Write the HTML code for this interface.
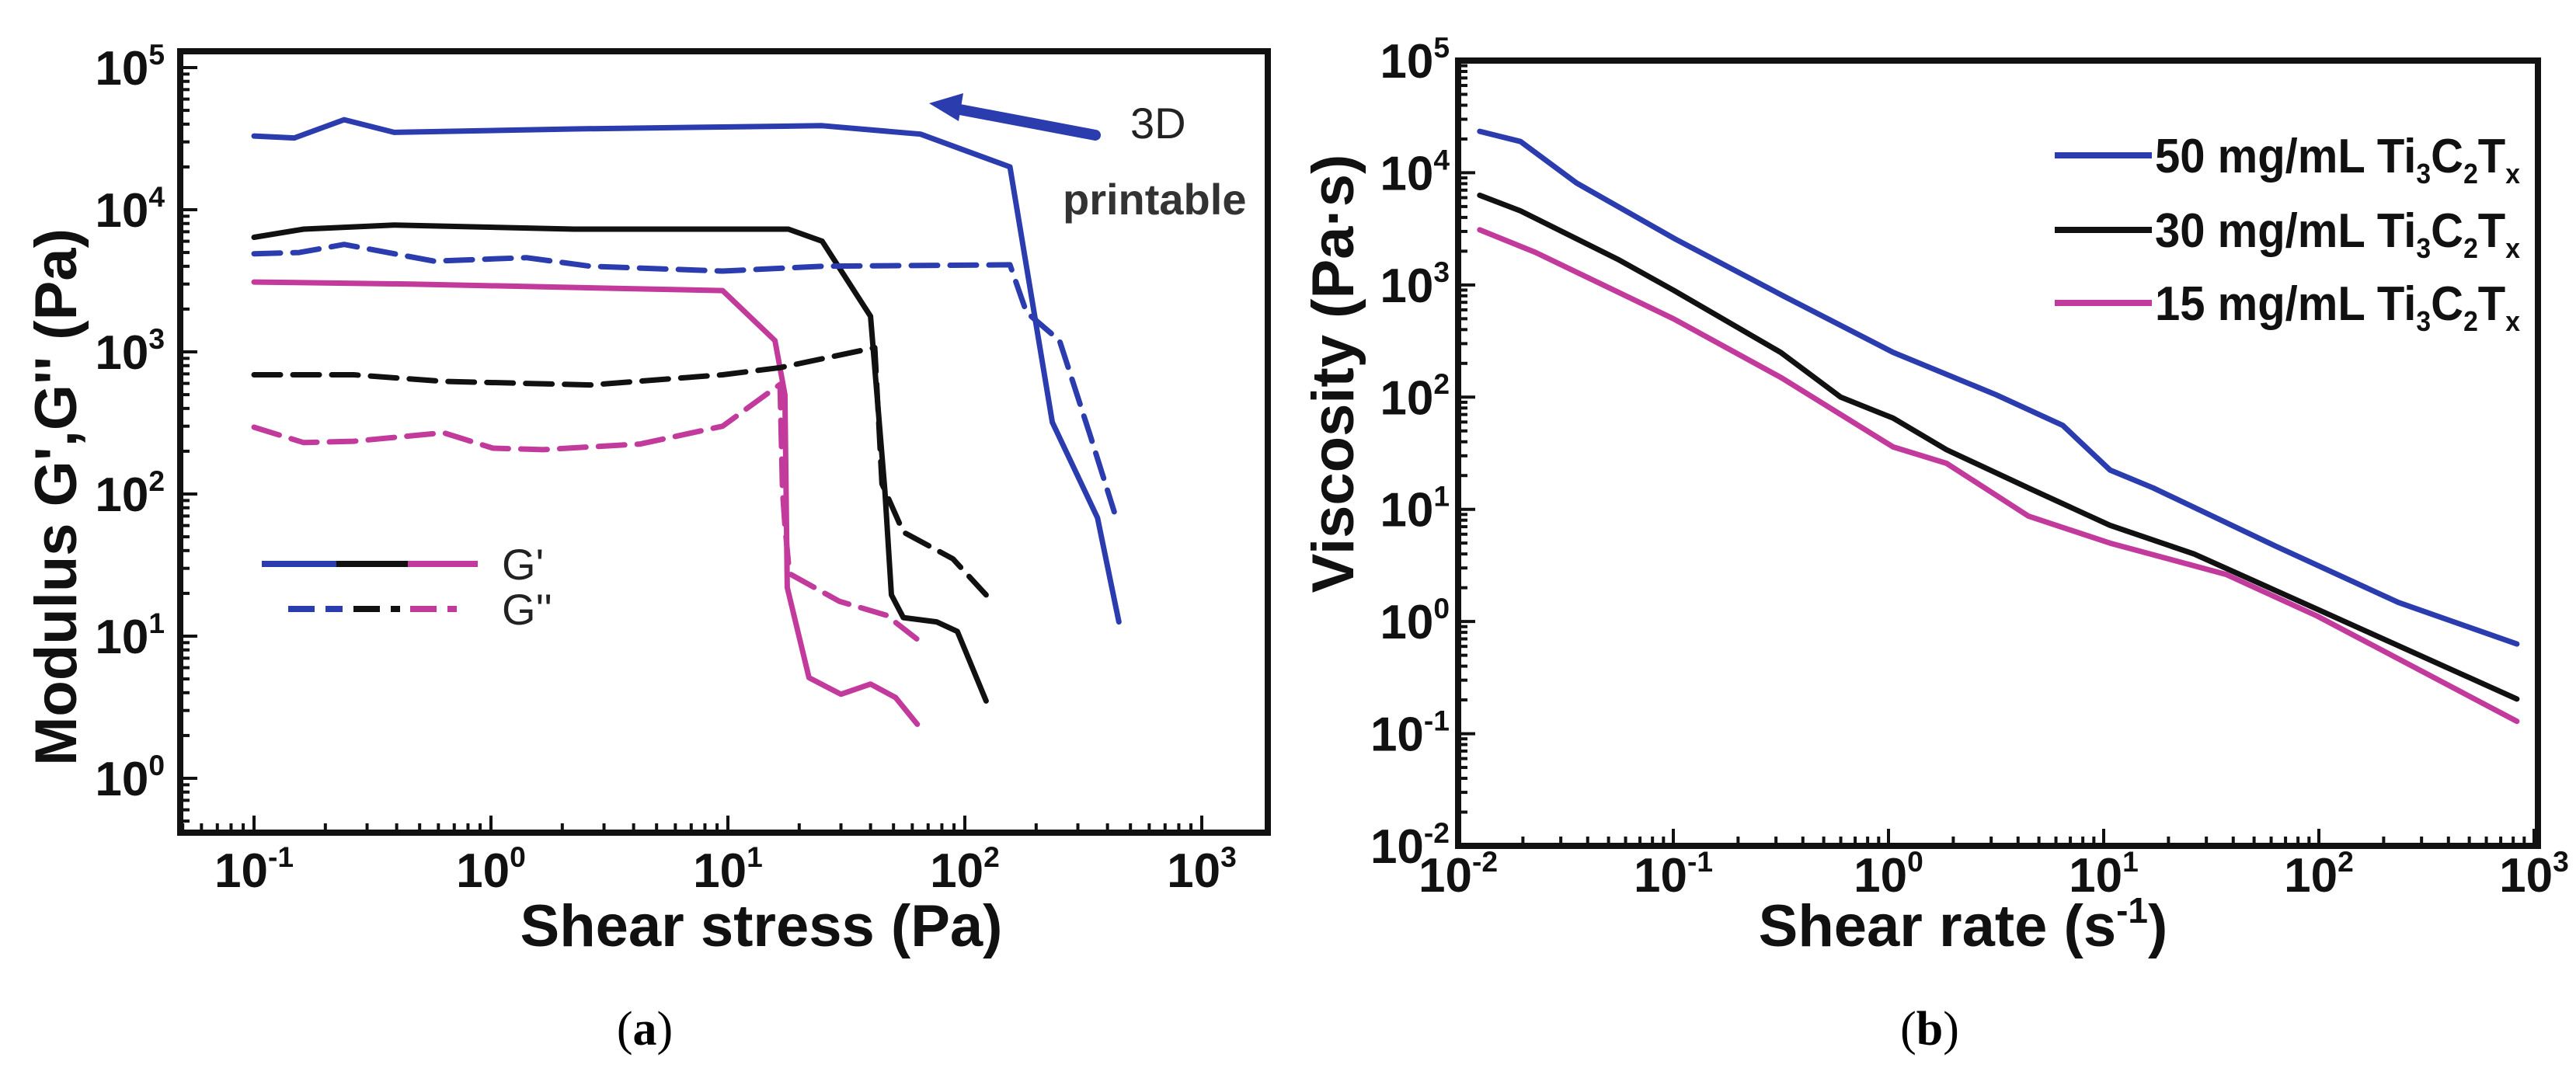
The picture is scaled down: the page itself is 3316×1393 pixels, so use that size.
<!DOCTYPE html>
<html><head><meta charset="utf-8">
<style>
html,body{margin:0;padding:0;background:#fff;}
svg{display:block;}
text{font-family:"Liberation Sans",Arial,sans-serif;}
</style></head>
<body>
<svg id="fig" width="3316" height="1393" viewBox="0 0 3316 1393" xmlns="http://www.w3.org/2000/svg">
  <rect width="3316" height="1393" fill="#fff"/>
  <g id="pa"></g>
  <g id="pb"></g>
  <text x="830" y="1345" text-anchor="middle" font-size="62" style="font-family:'Liberation Serif',serif">(<tspan font-weight="bold">a</tspan>)</text>
  <text x="2484" y="1345" text-anchor="middle" font-size="62" style="font-family:'Liberation Serif',serif">(<tspan font-weight="bold">b</tspan>)</text>
</svg>
<script>
// ===== Panel (a) data: shear stress (Pa) vs modulus (Pa) =====
const aBlueGpX = [0.1,0.148,0.24,0.39,2.24,25,65,155,234,363,447];
const aBlueGpY = [33000,32000,43000,35000,37000,39000,34000,20000,320,68,12.6];
const aBlackGpX = [0.1,0.162,0.39,2.24,18,25,40,46,49,55,76,93,123];
const aBlackGpY = [6400,7300,7800,7300,7300,6000,1780,105,19.5,13.5,12.6,10.8,3.5];
const aMagGpX = [0.1,0.46,9.5,15.8,17.4,17.6,17.8,22,30,40,51,63];
const aMagGpY = [3100,3000,2700,1200,500,105,22,5.1,3.9,4.6,3.7,2.4];
const aBlueGppX = [0.1,0.155,0.24,0.575,1.41,2.63,9.5,25,155,182,251,339,427];
const aBlueGppY = [4900,5000,5700,4350,4600,4000,3700,4000,4100,1900,1200,255,75];
const aBlackGppX = [0.1,0.263,0.63,2.63,9.5,16.6,41.7,44.7,55,89,123];
const aBlackGppY = [690,690,620,585,690,775,1070,118,54,35,19.5];
const aMagGppX = [0.1,0.162,0.263,0.63,1.02,1.66,4.27,9.5,16.6,17,17.4,18.2,29.5,46.8,63];
const aMagGppY = [295,230,235,270,210,205,225,300,590,105,60,27.5,17.6,14,9.5];
const aXTickExp = [-1,0,1,2,3];
const aYTickExp = [0,1,2,3,4,5];

// ===== Panel (b) data: shear rate (1/s) vs viscosity (Pa·s) =====
const bX50 = [0.0126,0.0195,0.0355,0.102,0.324,1.05,3.16,6.46,10.7,17,63,234,832];
const bY50 = [23400,19000,8100,2570,800,251,105,56,22.4,15.5,4.7,1.48,0.63];
const bX30 = [0.0126,0.0195,0.055,0.1,0.316,0.6,1.05,1.86,4.47,10.7,26.3,98,832];
const bY30 = [6300,4570,1700,900,250,100,65,34,15.5,7.2,4.0,1.29,0.204];
const bX15 = [0.0126,0.0229,0.1,0.316,1.05,1.86,4.47,10.7,37,98,832];
const bY15 = [3100,1950,500,150,36,25.7,8.7,5.0,2.63,1.12,0.129];
const bXTickExp = [-2,-1,0,1,2,3];
const bYTickExp = [-2,-1,0,1,2,3,4,5];

const NS = "http://www.w3.org/2000/svg";
const BLUE = "#2a3cae", MAG = "#c23a9c", BLK = "#111";
function mk(parent, tag, attrs){
  const e = document.createElementNS(NS, tag);
  for (const k in attrs) e.setAttribute(k, attrs[k]);
  parent.appendChild(e); return e;
}
function logAxis(d0,d1,p0,p1){ return v => p0 + (Math.log10(v)-d0)/(d1-d0)*(p1-p0); }
function powLabel(parent, x, y, exp, anchor, fs){
  const t = mk(parent,'text',{x:x,y:y,'text-anchor':anchor,'font-size':fs,'font-weight':'bold',fill:'#111'});
  
  
  t.appendChild(document.createTextNode('10'));
  const s = mk(t,'tspan',{dy:-fs*0.42,'font-size':fs*0.6});
  s.textContent = String(exp);
  return t;
}
function drawFrame(g, L,T,R,B, xs, ys, xE, yE){
  for (let e=xE[0]; e<=xE[xE.length-1]; e++){
    for (let m=1; m<10; m++){
      const v = m*Math.pow(10,e); const px = xs(v);
      if (px < L-1 || px > R+1) continue;
      const len = m===1?22:12;
      const t = mk(g,'line',{x1:px,y1:B,x2:px,y2:B-len,stroke:'#111','stroke-width':4});
      
      
    }
  }
  for (let e=yE[0]-1; e<=yE[yE.length-1]; e++){
    for (let m=1; m<10; m++){
      const v = m*Math.pow(10,e); const py = ys(v);
      if (py < T-1 || py > B+1) continue;
      const len = m===1?22:12;
      const t = mk(g,'line',{x1:L,y1:py,x2:L+len,y2:py,stroke:'#111','stroke-width':4});
      
      
    }
  }
  const f = mk(g,'rect',{x:L,y:T,width:R-L,height:B-T,fill:'none',stroke:'#111','stroke-width':8});
  
  
}
function series(g, X, Y, xs, ys, color, dash, name){
  const pts = X.map((x,i)=> xs(x).toFixed(1)+','+ys(Y[i]).toFixed(1)).join(' ');
  const a = {points:pts,fill:'none',stroke:color,'stroke-width':7,'stroke-linejoin':'round','stroke-linecap':'round'};
  if (dash) a['stroke-dasharray'] = dash;
  const p = mk(g,'polyline',a);
  
  
  return p;
}

// ---------- Panel A ----------
(function(){
  const g = document.getElementById('pa');
  const L=232,T=66,R=1632,B=1072;
  const xs = logAxis(-1,3,327,1547);
  const ys = logAxis(0,5,1002,87);
  drawFrame(g,L,T,R,B,xs,ys,[-2,3],aYTickExp);
  aXTickExp.forEach(e=>powLabel(g, xs(Math.pow(10,e)), 1142, e, 'middle', 62));
  aYTickExp.forEach(e=>powLabel(g, 212, ys(Math.pow(10,e))+22, e, 'end', 62));
  const xt = mk(g,'text',{x:980,y:1218,'text-anchor':'middle','font-size':76,'font-weight':'bold',fill:'#111'});
  xt.textContent = 'Shear stress (Pa)';
  
  
  const yt = mk(g,'text',{x:0,y:0,transform:'translate(98,640) rotate(-90)','text-anchor':'middle','font-size':76,'font-weight':'bold',fill:'#111'});
  yt.textContent = "Modulus G',G'' (Pa)";
  
  

  series(g,aBlueGpX,aBlueGpY,xs,ys,BLUE,null,'series-blue-g-prime');
  series(g,aBlackGpX,aBlackGpY,xs,ys,BLK,null,'series-black-g-prime');
  series(g,aMagGpX,aMagGpY,xs,ys,MAG,null,'series-magenta-g-prime');
  series(g,aBlueGppX,aBlueGppY,xs,ys,BLUE,'34 16','series-blue-g-double-prime');
  series(g,aBlackGppX,aBlackGppY,xs,ys,BLK,'34 16','series-black-g-double-prime');
  series(g,aMagGppX,aMagGppY,xs,ys,MAG,'34 16','series-magenta-g-double-prime');

  const ar = mk(g,'line',{x1:1410,y1:174,x2:1225,y2:139,stroke:BLUE,'stroke-width':14,'stroke-linecap':'round'});
  
  
  const ah = mk(g,'polygon',{points:'1196,133 1240,120 1234,156',fill:BLUE});
  
  
  const t1 = mk(g,'text',{x:1455,y:178,'font-size':56,fill:'#222'}); t1.textContent='3D';
  
  
  const t2 = mk(g,'text',{x:1368,y:276,'font-size':56,'font-weight':'bold',fill:'#333'}); t2.textContent='printable';
  
  

  const lg = mk(g,'g',{});
  
  
  mk(lg,'line',{x1:337,y1:726,x2:433,y2:726,stroke:BLUE,'stroke-width':8});
  mk(lg,'line',{x1:433,y1:726,x2:525,y2:726,stroke:BLK,'stroke-width':8});
  mk(lg,'line',{x1:525,y1:726,x2:615,y2:726,stroke:MAG,'stroke-width':8});
  mk(lg,'line',{x1:371,y1:784,x2:441,y2:784,stroke:BLUE,'stroke-width':8,'stroke-dasharray':'34 14'});
  mk(lg,'line',{x1:455,y1:784,x2:515,y2:784,stroke:BLK,'stroke-width':8,'stroke-dasharray':'34 14'});
  mk(lg,'line',{x1:528,y1:784,x2:588,y2:784,stroke:MAG,'stroke-width':8,'stroke-dasharray':'34 14'});
  const l1 = mk(lg,'text',{x:646,y:746,'font-size':56,fill:'#222'}); l1.textContent="G'";
  
  
  const l2 = mk(lg,'text',{x:646,y:804,'font-size':56,fill:'#222'}); l2.textContent="G''";
  
  
})();

// ---------- Panel B ----------
(function(){
  const g = document.getElementById('pb');
  const L=1877,T=78,R=3267,B=1089;
  const xs = logAxis(-2,3,1877,3262);
  const ys = logAxis(-2,5,1089,78);
  drawFrame(g,L,T,R,B,xs,ys,bXTickExp,bYTickExp);
  bXTickExp.forEach(e=>powLabel(g, xs(Math.pow(10,e)), 1148, e, 'middle', 62));
  bYTickExp.forEach(e=>powLabel(g, 1866, ys(Math.pow(10,e))+22, e, 'end', 62));
  const xt = mk(g,'text',{x:2527,y:1218,'text-anchor':'middle','font-size':76,'font-weight':'bold',fill:'#111'});
  xt.appendChild(document.createTextNode('Shear rate (s'));
  const sp = mk(xt,'tspan',{dy:-30,'font-size':46}); sp.textContent='-1';
  const sp2 = mk(xt,'tspan',{dy:30}); sp2.textContent=')';
  
  
  const yt = mk(g,'text',{x:0,y:0,transform:'translate(1742,481) rotate(-90)','text-anchor':'middle','font-size':76,'font-weight':'bold',fill:'#111'});
  yt.textContent = 'Viscosity (Pa\u00b7s)';
  
  

  series(g,bX50,bY50,xs,ys,BLUE,null,'series-50-mg-ml');
  series(g,bX30,bY30,xs,ys,BLK,null,'series-30-mg-ml');
  series(g,bX15,bY15,xs,ys,MAG,null,'series-15-mg-ml');

  const lg = mk(g,'g',{});
  
  
  const entries = [['50',BLUE,200],['30',BLK,296],['15',MAG,390]];
  entries.forEach(en=>{
    const ln = mk(lg,'line',{x1:2645,y1:en[2],x2:2770,y2:en[2],stroke:en[1],'stroke-width':8});
    
    
    const t = mk(lg,'text',{x:2774,y:en[2]+22,'font-size':62,'font-weight':'bold',fill:'#111'});
    
    
    t.appendChild(document.createTextNode(en[0]+' mg/mL Ti'));
    const a = mk(t,'tspan',{dy:14,'font-size':36}); a.textContent='3';
    const b = mk(t,'tspan',{dy:-14}); b.textContent='C';
    const c = mk(t,'tspan',{dy:14,'font-size':36}); c.textContent='2';
    const d = mk(t,'tspan',{dy:-14}); d.textContent='T';
    const e = mk(t,'tspan',{dy:14,'font-size':36}); e.textContent='x';
    t.setAttribute('textLength', 470);
    t.setAttribute('lengthAdjust', 'spacingAndGlyphs');
  });
})();
</script>
</body></html>
